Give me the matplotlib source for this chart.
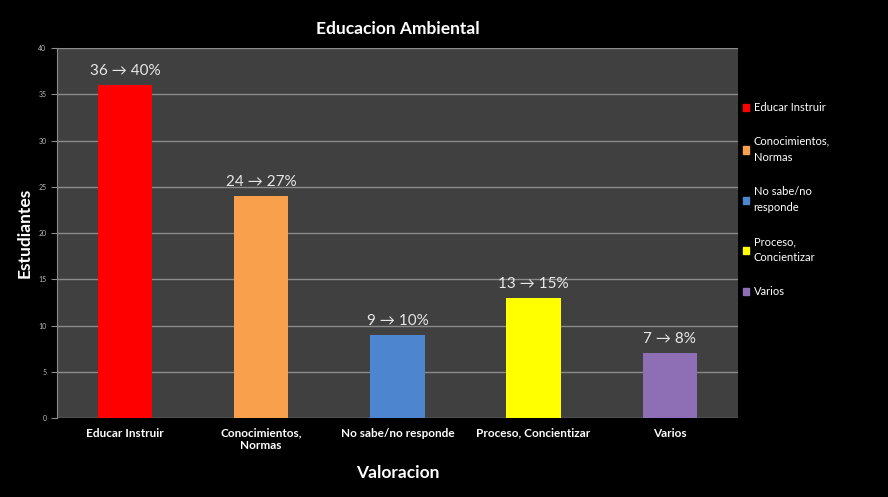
import matplotlib
matplotlib.use('Agg')
import matplotlib.pyplot as plt

plt.rcParams['font.family'] = ['Lato', 'DejaVu Sans']

# datos
categorias = ['Educar Instruir', 'Conocimientos,\nNormas', 'No sabe/no responde',
              'Proceso, Concientizar', 'Varios']
leyenda = ['Educar Instruir', 'Conocimientos,\nNormas', 'No sabe/no\nresponde',
           'Proceso,\nConcientizar', 'Varios']
estudiantes = [36, 24, 9, 13, 7]
porcentajes = [40, 27, 10, 15, 8]
colores = ['#ff0000', '#f9a04c', '#4d86cf', '#ffff00', '#8e6fb5']

fig = plt.figure(figsize=(8.88, 4.97), dpi=100, facecolor='black')
ax = fig.add_axes([0.064, 0.159, 0.767, 0.744])
ax.set_facecolor('#404040')

x = range(len(categorias))
ax.bar(x, estudiantes, width=0.4, color=colores, zorder=3, edgecolor='none')

# etiquetas sobre las barras
for i, (v, p) in enumerate(zip(estudiantes, porcentajes)):
    ax.text(i, min(v + 1.5, 38.8), f'{v} \u2192 {p}%', ha='center', va='center',
            color='#e8e8e8', fontsize=11, zorder=4)

ax.set_xlim(-0.5, 4.5)
ax.set_ylim(0, 40)
ax.set_yticks(range(0, 41, 5))
ax.yaxis.grid(True, color='#8a8a8a', linewidth=1, zorder=0)
ax.set_xticks(list(x))
ax.set_xticklabels(categorias, color='white', fontsize=8.5, fontweight='bold')
ax.tick_params(axis='x', length=0, pad=7)
ax.tick_params(axis='y', colors='#bbbbbb', labelsize=5, length=4, color='#8a8a8a')
for s in ['top', 'right', 'bottom']:
    ax.spines[s].set_visible(False)
ax.spines['left'].set_color('#8a8a8a')

ax.set_title('Educacion Ambiental', color='white', fontsize=12.5, fontweight='bold', pad=10)
ax.set_ylabel('Estudiantes', color='white', fontsize=12.5, fontweight='bold', labelpad=4)
ax.set_xlabel('Valoracion', color='white', fontsize=12.5, fontweight='bold', labelpad=10)

handles = [plt.Rectangle((0, 0), 1, 1, color=c) for c in colores]
leg = fig.legend(handles, leyenda, loc='upper left', bbox_to_anchor=(0.825, 0.815),
                 frameon=False, fontsize=8, labelcolor='white', handlelength=0.6,
                 handleheight=0.6, handletextpad=0.4, labelspacing=2.05)
for t in leg.get_texts():
    t.set_linespacing(1.6)

fig.savefig('out.png', dpi=100, facecolor='black')
